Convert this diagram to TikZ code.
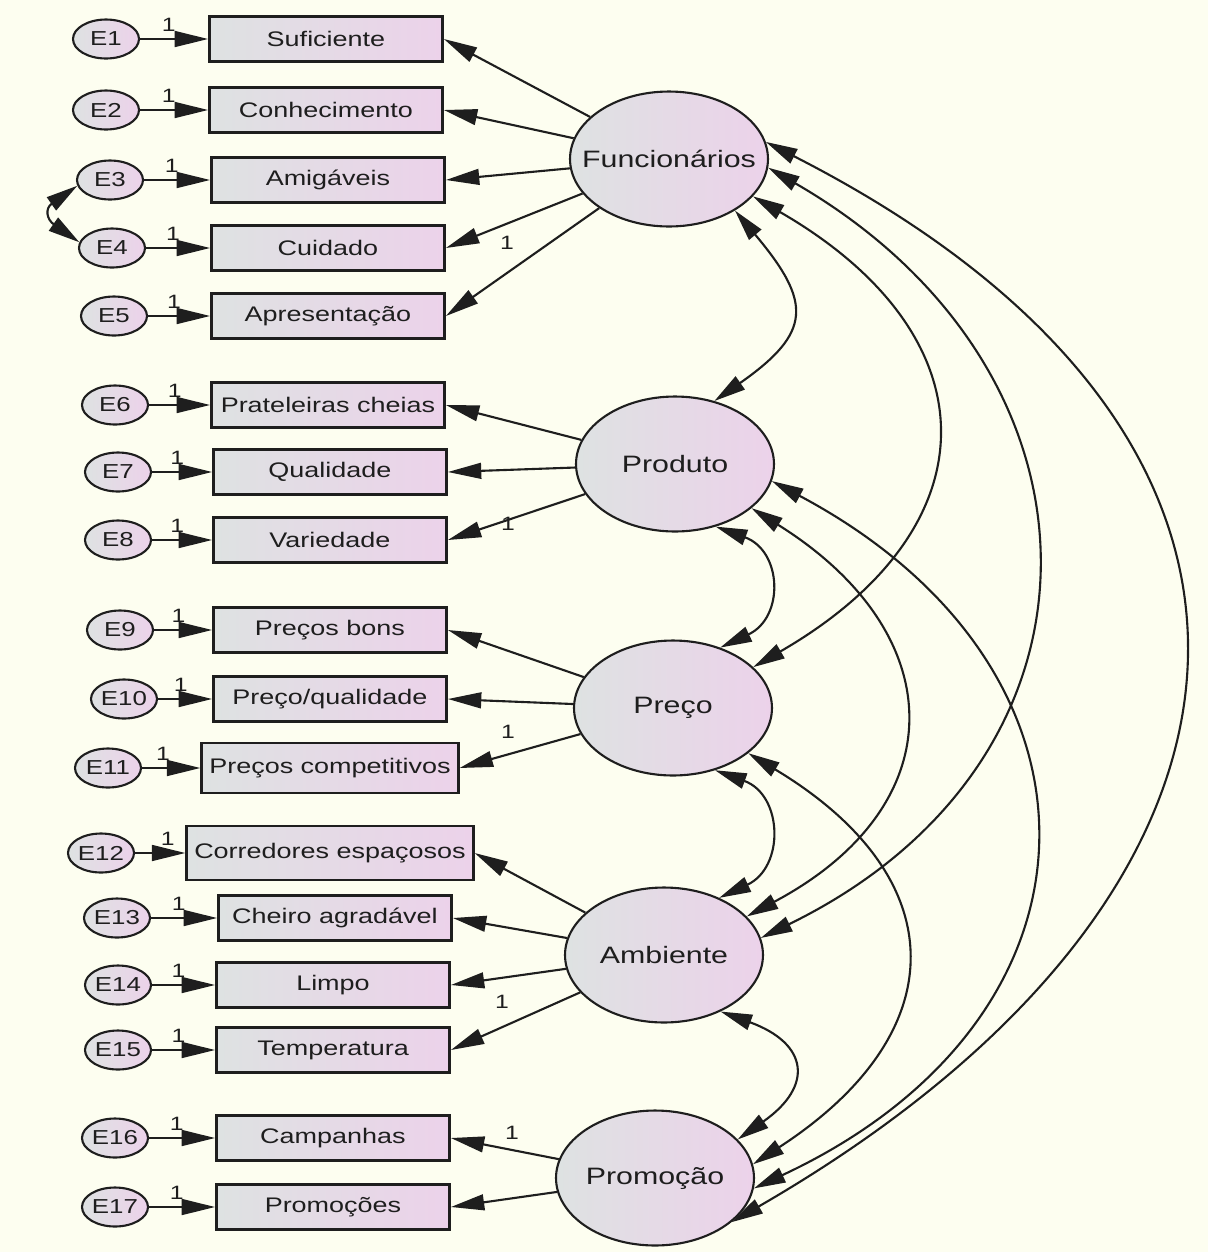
\documentclass[tikz,border=0pt]{standalone}
\usepackage{fontspec}
\setmainfont{Liberation Sans}[FakeStretch=1.28]
\usetikzlibrary{arrows.meta,shapes.geometric}
\definecolor{paper}{HTML}{FDFEF0}
\definecolor{ink}{HTML}{1E1E1E}
\definecolor{fillL}{RGB}{222,226,226}
\definecolor{fillR}{RGB}{236,210,234}
\tikzset{
  obs/.style={draw=ink,line width=1.6pt,left color=fillL,right color=fillR,
    minimum width=4.66cm,minimum height=0.9cm,inner xsep=0.15cm,
    font=\fontsize{12}{14}\selectfont,text=ink},
  lat/.style={ellipse,draw=ink,line width=1.2pt,left color=fillL,right color=fillR,
    minimum width=3.96cm,minimum height=2.7cm,inner xsep=-0.45cm,
    font=\fontsize{13.5}{16}\selectfont,text=ink},
  err/.style={ellipse,draw=ink,line width=1.2pt,left color=fillL,right color=fillR,
    minimum width=1.32cm,minimum height=0.78cm,inner sep=0pt,
    font=\fontsize{11.5}{13}\selectfont,text=ink},
  one/.style={font=\fontsize{11}{13}\selectfont,text=ink,inner sep=0.5pt},
  reg/.style={draw=ink,line width=1.2pt,-{Triangle[length=19pt,width=9pt]}},
  cov/.style={draw=ink,line width=1.2pt,
    {Triangle[length=18pt,width=9pt]}-{Triangle[length=18pt,width=9pt]}},
}
\begin{document}
\begin{tikzpicture}[x=0.02cm,y=0.02cm]
  \fill[paper] (0,0) rectangle (1208,-1252);
  \useasboundingbox (0,0) rectangle (1208,-1252);
  % latent factors
  \node[lat] (fun) at (669,-159) {Funcionários};
  \node[lat] (pro) at (675,-464) {Produto};
  \node[lat] (pre) at (673,-708) {Preço};
  \node[lat] (amb) at (664,-955) {Ambiente};
  \node[lat] (prm) at (655,-1178) {Promoção};
  % observed items
  \node[obs] (o1) at (326,-39) {Suficiente};
  \node[obs] (o2) at (326,-110) {Conhecimento};
  \node[obs] (o3) at (328,-180) {Amigáveis};
  \node[obs] (o4) at (328,-248) {Cuidado};
  \node[obs] (o5) at (328,-316) {Apresentação};
  \node[obs] (o6) at (328,-405) {Prateleiras cheias};
  \node[obs] (o7) at (330,-472) {Qualidade};
  \node[obs] (o8) at (330,-540) {Variedade};
  \node[obs] (o9) at (330,-630) {Preços bons};
  \node[obs] (o10) at (330,-699) {Preço/qualidade};
  \node[obs,minimum height=1cm] (o11) at (330,-768) {Preços competitivos};
  \node[obs,minimum height=1.08cm] (o12) at (330,-853) {Corredores espaçosos};
  \node[obs] (o13) at (335,-918) {Cheiro agradável};
  \node[obs] (o14) at (333,-985) {Limpo};
  \node[obs] (o15) at (333,-1050) {Temperatura};
  \node[obs] (o16) at (333,-1138) {Campanhas};
  \node[obs] (o17) at (333,-1207) {Promoções};
  % errors
  \node[err] (e1) at (106,-39) {E1};
  \node[err] (e2) at (106,-110) {E2};
  \node[err] (e3) at (110,-180) {E3};
  \node[err] (e4) at (112,-248) {E4};
  \node[err] (e5) at (114,-316) {E5};
  \node[err] (e6) at (115,-405) {E6};
  \node[err] (e7) at (118,-472) {E7};
  \node[err] (e8) at (118,-540) {E8};
  \node[err] (e9) at (120,-630) {E9};
  \node[err] (e10) at (124,-699) {E10};
  \node[err] (e11) at (108,-768) {E11};
  \node[err] (e12) at (101,-853) {E12};
  \node[err] (e13) at (117,-918) {E13};
  \node[err] (e14) at (118,-985) {E14};
  \node[err] (e15) at (118,-1050) {E15};
  \node[err] (e16) at (115,-1138) {E16};
  \node[err] (e17) at (115,-1207) {E17};
  % error paths
  \draw[reg] (e1) -- node[one,pos=0.42,above=3pt] {1} (o1);
  \draw[reg] (e2) -- node[one,pos=0.42,above=3pt] {1} (o2);
  \draw[reg] (e3) -- node[one,pos=0.42,above=3pt] {1} (o3);
  \draw[reg] (e4) -- node[one,pos=0.42,above=3pt] {1} (o4);
  \draw[reg] (e5) -- node[one,pos=0.42,above=3pt] {1} (o5);
  \draw[reg] (e6) -- node[one,pos=0.42,above=3pt] {1} (o6);
  \draw[reg] (e7) -- node[one,pos=0.42,above=3pt] {1} (o7);
  \draw[reg] (e8) -- node[one,pos=0.42,above=3pt] {1} (o8);
  \draw[reg] (e9) -- node[one,pos=0.42,above=3pt] {1} (o9);
  \draw[reg] (e10) -- node[one,pos=0.42,above=3pt] {1} (o10);
  \draw[reg] (e11) -- node[one,pos=0.36,above=3pt] {1} (o11);
  \draw[reg] (e12) -- node[one,pos=0.65,above=3pt] {1} (o12);
  \draw[reg] (e13) -- node[one,pos=0.42,above=3pt] {1} (o13);
  \draw[reg] (e14) -- node[one,pos=0.42,above=3pt] {1} (o14);
  \draw[reg] (e15) -- node[one,pos=0.42,above=3pt] {1} (o15);
  \draw[reg] (e16) -- node[one,pos=0.42,above=3pt] {1} (o16);
  \draw[reg] (e17) -- node[one,pos=0.42,above=3pt] {1} (o17);
  % loadings
  \draw[reg] (fun) -- (o1.east);
  \draw[reg] (fun) -- (o2.east);
  \draw[reg] (fun) -- (o3.east);
  \draw[reg] (fun) -- (o4.east);
  \draw[reg] (fun) -- (o5.east);
  \draw[reg] (pro) -- (o6.east);
  \draw[reg] (pro) -- (o7.east);
  \draw[reg] (pro) -- (o8.east);
  \draw[reg] (pre) -- (o9.east);
  \draw[reg] (pre) -- (o10.east);
  \draw[reg] (pre) -- (o11.east);
  \draw[reg] (amb) -- (o12.east);
  \draw[reg] (amb) -- (o13.east);
  \draw[reg] (amb) -- (o14.east);
  \draw[reg] (amb) -- (o15.east);
  \draw[reg] (prm) -- (o16.east);
  \draw[reg] (prm) -- (o17.east);
  \node[one] (w1) at (507,-243) {1};
  \node[one] (w2) at (508,-524) {1};
  \node[one] (w3) at (508,-732) {1};
  \node[one] (w4) at (502,-1002) {1};
  \node[one] (w5) at (512,-1133) {1};
  % covariances
  \draw[cov] (e3.190) to[out=215,in=145,looseness=1.8] (e4.170);
  \draw[cov] (fun.-38) to[out=-50,in=35,looseness=1.6] (pro.58);
  \draw[cov] (pro.-57) to[out=-20,in=25,looseness=1.5] (pre.52);
  \draw[cov] (pre.-56) to[out=-20,in=25,looseness=1.45] (amb.46);
  \draw[cov] (amb.-45) to[out=-20,in=35,looseness=1.85] (prm.25);
  \draw[cov] (fun.-24) to[out=-30,in=30,looseness=1.52] (pre.27);
  \draw[cov] (pro.-30) to[out=-32,in=28,looseness=1.48] (amb.25);
  \draw[cov] (pre.-31) to[out=-31,in=33,looseness=1.5] (prm.8);
  \draw[cov] (fun.-5) to[out=-30,in=26,looseness=1.35] (amb.10);
  \draw[cov] (pro.-10) to[out=-28,in=25,looseness=1.45] (prm.-6);
  \draw[cov] (fun.10) to[out=-27,in=30,looseness=1.55] (prm.-30);
\end{tikzpicture}
\end{document}
